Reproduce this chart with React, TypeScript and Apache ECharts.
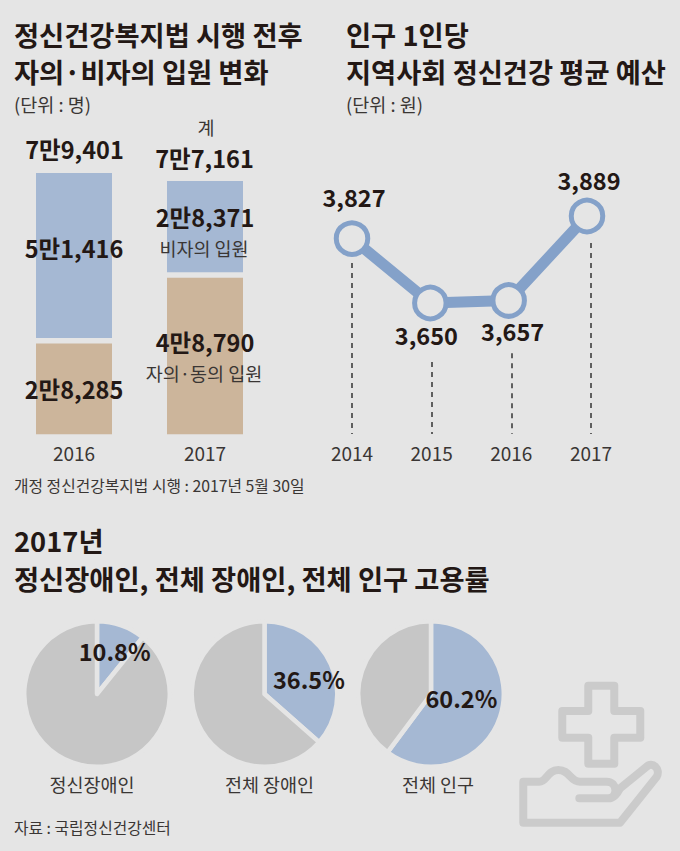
import React, { useEffect, useRef } from "react";
import * as echarts from "echarts";

const BG = "#e5e5e5";
const INK = "#231815";
const SOFT = "#3a3634";
const BLUE = "#a5b8d3";
const TAN = "#ccb59b";
const GRAY = "#c6c6c6";
const LINE = "#84a1c9";
const ICON = "#cbcbcb";
const FONT = '"Noto Sans CJK KR", "Noto Sans", sans-serif';

const barYears = ["2016", "2017"];
const voluntary = [28285, 48790];
const involuntary = [51416, 28371];
const totals = [79401, 77161];
const stackGap = [1700, 1700];

const budgetYears = ["2014", "2015", "2016", "2017"];
const budget = [3827, 3650, 3657, 3889];
const dropTops = [3770, 3498, 3522, 3825];

const pieNames = ["정신장애인", "전체 장애인", "전체 인구"];
const pieRates = [10.8, 36.5, 60.2];

const titleLeft = ["정신건강복지법 시행 전후", "자의·비자의 입원 변화"];
const titleRight = ["인구 1인당", "지역사회 정신건강 평균 예산"];
const titleBottom = ["2017년", "정신장애인, 전체 장애인, 전체 인구 고용률"];

const manWon = (v: number) => {
  const m = Math.floor(v / 10000);
  const r = v % 10000;
  return `${m}만${r.toLocaleString("en-US")}`;
};

const CROSS = "M588.3 685.7H614.3V711H640.3V737.7H614.3V763.7H588.3V737.7H562.3V711H588.3Z";
const HAND =
  "M579.3 798.3H608.3C618 798.3 618 781.7 606.7 781.7H580C570 781.7 570 770 558.3 770C547 770 547 781.7 539.3 781.7H523.3V822.7H620L656.7 776.7C661 769 652 761 646.7 766.7L620 788.3C617 794 614 798.3 608.3 798.3";
echarts.graphic.registerShape("iconCross", echarts.graphic.extendPath(CROSS, {}));
echarts.graphic.registerShape("iconHand", echarts.graphic.extendPath(HAND, {}));

const txt = (
  text: string,
  x: number,
  y: number,
  size: number,
  opts: { weight?: number | string; align?: string; color?: string } = {}
) => ({
  type: "text",
  x,
  y,
  z: 100,
  silent: true,
  style: {
    text,
    fontFamily: FONT,
    fontSize: size,
    fontWeight: opts.weight ?? "normal",
    fill: opts.color ?? INK,
    textAlign: opts.align ?? "left",
    textVerticalAlign: "middle",
  },
});

const VALUE_SIZE = 23.5;
const valueFont = { fontFamily: FONT, fontSize: VALUE_SIZE, fontWeight: 700, color: INK };

const barOffsets = { vol: [[0, 0], [0, -14]], inv: [[0, -7], [0, -10]] };
const lineLabels = [
  { position: "top", offset: [2, -7] },
  { position: "bottom", offset: [-4, -3] },
  { position: "bottom", offset: [4, -4] },
  { position: "top", offset: [2, -1] },
];
const pieOffsets = [[4.5, -6], [8.5, 1], [-7, -8]];
const pieCentersX = [97, 264.5, 431];

function buildOption() {
  const pies = pieRates.map((rate, i) => ({
    type: "pie",
    center: [pieCentersX[i], 694],
    radius: [0, 72.8],
    startAngle: 90,
    clockwise: true,
    silent: true,
    avoidLabelOverlap: false,
    labelLine: { show: false },
    itemStyle: { borderColor: BG, borderWidth: 4.5 },
    data: [
      {
        value: rate,
        name: pieNames[i],
        itemStyle: { color: BLUE },
        label: {
          show: true,
          position: "inside",
          formatter: `${rate}%`,
          offset: pieOffsets[i],
          ...valueFont,
        },
      },
      {
        value: Math.round((100 - rate) * 10) / 10,
        name: "나머지",
        itemStyle: { color: GRAY },
        label: { show: false },
      },
    ],
  }));

  const axisLabel = { fontFamily: FONT, fontSize: 19, color: SOFT, margin: 9 };

  return {
    animation: false,
    backgroundColor: BG,
    grid: [
      { left: 8.5, width: 262, top: 145.3, height: 289 },
      { left: 352, width: 235, top: 175.6, height: 364 },
      { left: 352, width: 239, top: 179.2, height: 254.8 },
    ],
    xAxis: [
      {
        type: "category",
        gridIndex: 0,
        data: barYears,
        axisLine: { show: false },
        axisTick: { show: false },
        axisLabel,
      },
      {
        type: "category",
        gridIndex: 1,
        data: budgetYears,
        boundaryGap: false,
        show: false,
      },
      {
        type: "category",
        gridIndex: 2,
        data: budgetYears,
        boundaryGap: false,
        axisLine: { show: false },
        axisTick: { show: false },
        axisLabel,
      },
    ],
    yAxis: [
      { type: "value", gridIndex: 0, min: 0, max: 90000, show: false },
      { type: "value", gridIndex: 1, min: 3000, max: 4000, show: false },
      { type: "value", gridIndex: 2, min: 3300, max: 4000, show: false },
    ],
    series: [
      {
        type: "bar",
        stack: "a",
        xAxisIndex: 0,
        yAxisIndex: 0,
        barWidth: 76,
        silent: true,
        itemStyle: { color: TAN },
        data: voluntary.map((v, i) => ({
          value: v,
          label: {
            show: true,
            position: "inside",
            formatter: manWon(v),
            offset: barOffsets.vol[i],
            ...valueFont,
          },
        })),
      },
      {
        type: "bar",
        stack: "a",
        xAxisIndex: 0,
        yAxisIndex: 0,
        barWidth: 76,
        silent: true,
        itemStyle: { color: "rgba(0,0,0,0)" },
        data: stackGap,
      },
      {
        type: "bar",
        stack: "a",
        xAxisIndex: 0,
        yAxisIndex: 0,
        barWidth: 76,
        silent: true,
        itemStyle: { color: BLUE },
        data: involuntary.map((v, i) => ({
          value: v,
          label: {
            show: true,
            position: "inside",
            formatter: manWon(v),
            offset: barOffsets.inv[i],
            ...valueFont,
          },
        })),
      },
      {
        type: "line",
        xAxisIndex: 2,
        yAxisIndex: 2,
        data: dropTops,
        silent: true,
        showSymbol: false,
        lineStyle: { opacity: 0 },
        markLine: {
          silent: true,
          symbol: "none",
          label: { show: false },
          lineStyle: { color: "#333333", width: 1.5, type: [5, 5] },
          data: budgetYears.map((y, i) => [
            { xAxis: y, yAxis: dropTops[i] },
            { xAxis: y, yAxis: 3300 },
          ]),
        },
      },
      {
        type: "line",
        xAxisIndex: 1,
        yAxisIndex: 1,
        silent: true,
        symbol: "circle",
        symbolSize: 31.5,
        lineStyle: { color: LINE, width: 11 },
        itemStyle: { color: BG, borderColor: LINE, borderWidth: 5 },
        data: budget.map((v, i) => ({
          value: v,
          label: {
            show: true,
            position: lineLabels[i].position,
            offset: lineLabels[i].offset,
            formatter: v.toLocaleString("en-US"),
            ...valueFont,
          },
        })),
      },
      ...pies,
    ],
    graphic: [
      txt(titleLeft[0], 14, 34, 27.3, { weight: 700 }),
      txt(titleLeft[1], 14, 71, 27.3, { weight: 700 }),
      txt("(단위 : 명)", 14, 104, 18.5, { color: SOFT }),
      txt(titleRight[0], 346, 34, 27.3, { weight: 700 }),
      txt(titleRight[1], 346, 71, 27.3, { weight: 700 }),
      txt("(단위 : 원)", 346, 104, 18.5, { color: SOFT }),
      txt("계", 206, 127, 18.5, { align: "center", color: SOFT }),
      txt(manWon(totals[0]), 74.5, 148.5, VALUE_SIZE, { align: "center", weight: 700 }),
      txt(manWon(totals[1]), 204.5, 157.5, VALUE_SIZE, { align: "center", weight: 700 }),
      txt("비자의 입원", 204, 248, 18.5, { align: "center", color: SOFT }),
      txt("자의·동의 입원", 204, 373, 18.5, { align: "center", color: SOFT }),
      txt("개정 정신건강복지법 시행 : 2017년 5월 30일", 14, 485, 15.8, { color: SOFT }),
      txt(titleBottom[0], 14, 540, 27.3, { weight: 700 }),
      txt(titleBottom[1], 14, 578, 27.3, { weight: 700 }),
      txt(pieNames[0], 92, 784, 18.5, { align: "center", color: SOFT }),
      txt(pieNames[1], 269.5, 784, 18.5, { align: "center", color: SOFT }),
      txt(pieNames[2], 438, 784, 18.5, { align: "center", color: SOFT }),
      txt("자료 : 국립정신건강센터", 14, 827, 15.8, { color: SOFT }),
      {
        type: "iconCross",
        silent: true,
        z: 100,
        style: { fill: "none", stroke: ICON, lineWidth: 8, lineJoin: "round" },
      },
      {
        type: "iconHand",
        silent: true,
        z: 100,
        style: { fill: "none", stroke: ICON, lineWidth: 8, lineJoin: "round", lineCap: "round" },
      },
    ],
  };
}

export default function App() {
  const ref = useRef<HTMLDivElement>(null);
  useEffect(() => {
    document.body.style.margin = "0";
    const chart = echarts.init(ref.current!, undefined, { renderer: "svg" });
    chart.setOption(buildOption() as any);
    return () => chart.dispose();
  }, []);
  return <div ref={ref} style={{ width: 680, height: 851 }} />;
}
